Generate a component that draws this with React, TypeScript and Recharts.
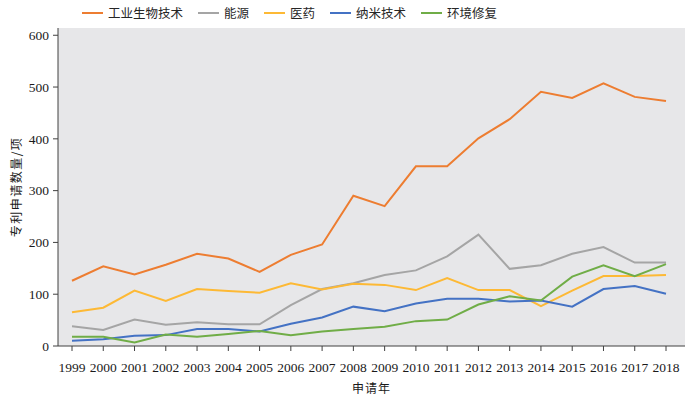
import React from 'react';
import { LineChart, Line, XAxis, YAxis, CartesianGrid } from 'recharts';

const years = ['1999','2000','2001','2002','2003','2004','2005','2006','2007','2008','2009','2010','2011','2012','2013','2014','2015','2016','2017','2018'];
const industrialBio = [126, 154, 138, 157, 178, 169, 143, 176, 196, 290, 270, 347, 347, 401, 438, 491, 479, 507, 481, 473];
const energy = [38, 31, 51, 41, 46, 42, 42, 79, 110, 121, 137, 146, 173, 215, 149, 156, 178, 191, 161, 161];
const medicine = [65, 74, 107, 87, 110, 106, 103, 121, 109, 120, 118, 108, 131, 108, 108, 77, 107, 135, 135, 137];
const nano = [10, 13, 20, 21, 33, 33, 28, 43, 55, 76, 67, 82, 91, 91, 86, 88, 76, 110, 116, 101];
const environment = [18, 18, 7, 22, 18, 23, 29, 21, 28, 33, 37, 48, 51, 80, 96, 88, 134, 156, 135, 158];
const yTicks = [0, 100, 200, 300, 400, 500, 600];

const seriesDefs = [
  { key: 'industrialBio', name: '工业生物技术', color: '#ED7D31', values: industrialBio },
  { key: 'energy', name: '能源', color: '#A5A5A5', values: energy },
  { key: 'medicine', name: '医药', color: '#FDB935', values: medicine },
  { key: 'nano', name: '纳米技术', color: '#4472C4', values: nano },
  { key: 'environment', name: '环境修复', color: '#70AD47', values: environment },
];

const data = years.map((y, i) => {
  const row: Record<string, string | number> = { year: y };
  seriesDefs.forEach((s) => { row[s.key] = s.values[i]; });
  return row;
});

const cjk = '"Noto Sans CJK SC", sans-serif';
const serif = '"Liberation Serif", "Times New Roman", serif';

const LegendBox = () => (
  <div style={{ position: 'absolute', left: 82, top: 6, display: 'flex', alignItems: 'center', height: 14 }}>
    {seriesDefs.map((s) => (
      <div key={s.key} style={{ display: 'flex', alignItems: 'center', marginRight: 15 }}>
        <div style={{ width: 21, height: 2.5, background: s.color, marginRight: 5 }} />
        <span style={{ fontFamily: cjk, fontSize: 12.5, color: '#262626', lineHeight: '14px', whiteSpace: 'nowrap' }}>{s.name}</span>
      </div>
    ))}
  </div>
);

export default function App() {
  return (
    <div style={{ position: 'absolute', left: 0, top: 0, width: 700, height: 397, background: '#fff' }}>
      <LineChart width={700} height={397} data={data} margin={{ top: 28, right: 15, left: 0, bottom: 0 }}>
        <CartesianGrid fill="#E7E7E9" horizontal={false} vertical={false} stroke="none" />
        <XAxis
          dataKey="year"
          height={51}
          padding={{ left: 14, right: 19 }}
          tickSize={5}
          tickMargin={11}
          stroke="#404040"
          tick={{ fill: '#1a1a1a', fontSize: 13.5, fontFamily: serif }}
          interval={0}
          label={{ value: '申请年', position: 'insideBottom', offset: 4, fill: '#1a1a1a', fontSize: 12, fontFamily: cjk, letterSpacing: 1 }}
        />
        <YAxis
          width={58}
          domain={[0, 614]}
          ticks={yTicks}
          allowDataOverflow
          tickSize={5}
          tickMargin={4}
          stroke="#404040"
          tick={{ fill: '#1a1a1a', fontSize: 13.5, fontFamily: serif }}
          label={{ value: '专利申请数量/项', angle: -90, position: 'center', dx: -12, fill: '#1a1a1a', fontSize: 12, fontFamily: cjk, letterSpacing: 1.5 }}
        />
        {seriesDefs.map((s) => (
          <Line
            key={s.key}
            type="linear"
            dataKey={s.key}
            name={s.name}
            stroke={s.color}
            strokeWidth={2}
            dot={false}
            activeDot={false}
            isAnimationActive={false}
          />
        ))}
      </LineChart>
      <LegendBox />
    </div>
  );
}
